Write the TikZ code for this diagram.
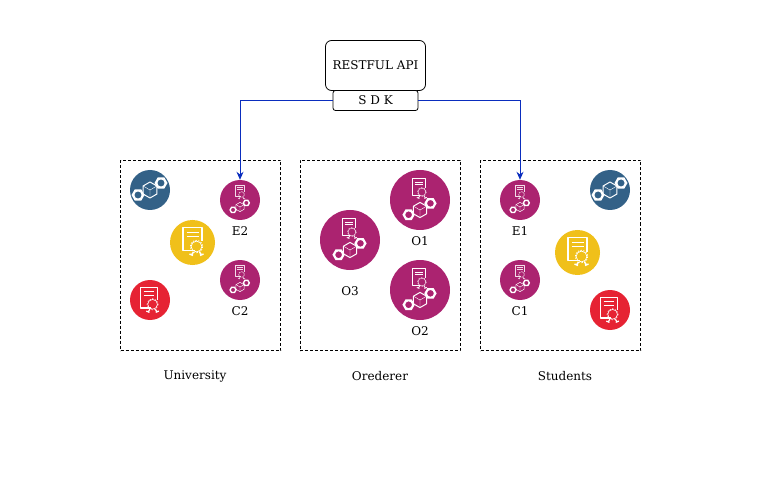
\documentclass[tikz,border=0pt]{standalone}
\usepackage{fontspec}
\setmainfont{DejaVu Serif}
\usepackage{xcolor}
\usetikzlibrary{arrows.meta, positioning}
\definecolor{netblue}{HTML}{336187}
\definecolor{netyellow}{HTML}{F0C01A}
\definecolor{netred}{HTML}{E62333}
\definecolor{netpurple}{HTML}{AB2370}
\definecolor{linkblue}{HTML}{0A2DBE}
\tikzset{
    certicon/.pic={
        \draw[white, line join=round] (2,11) -- (-9.5,11) -- (-9.5,-12) -- (9.5,-12) -- (9.5,2);
        \draw[white] (-6,-7) -- (6,-7);
        \draw[white] (-6,-3) -- (6,-3);
        \draw[white, line width=.7*\pgflinewidth] (4,7) circle (5.4);
        \draw[white, line width=.7*\pgflinewidth, dash pattern=on 1.4pt off 1.4pt] (4,7) circle (6.2);
        \draw[white] (1,12.5) -- (-1,15.5) (-3,14.5) -- (0.5,16);
        \draw[white] (7,12.5) -- (9,15.5) (11,14.5) -- (7.5,16);
    },
    chainicon/.pic={
        \fill[white, even odd rule] (-12,5) ++(0:6.5) -- ++(120:6.5) -- ++(180:6.5) -- ++(240:6.5) -- ++(300:6.5) -- ++(0:6.5) -- cycle (-12,5) circle (3.6);
        \fill[white, even odd rule] (11,-7) ++(0:6.5) -- ++(120:6.5) -- ++(180:6.5) -- ++(240:6.5) -- ++(300:6.5) -- ++(0:6.5) -- cycle (11,-7) circle (3.6);
        \draw[white, line join=round] (30:8) -- (90:8) -- (150:8) -- (210:8) -- (270:8) -- (330:8) -- cycle;
        \draw[white!70, line width=.4pt] (0,0) -- (90:8) (0,0) -- (210:8) (0,0) -- (330:8);
    }
}
\begin{document}
\begin{tikzpicture}[
    x=1pt, y=-1pt,
    font=\fontsize{12}{14}\selectfont,
    orgbox/.style={rectangle, draw, dashed, minimum width=160pt, minimum height=190pt, line width=.8pt, dash pattern=on 3pt off 2pt},
    peer/.style={circle, inner sep=0pt, minimum size=40pt, fill=netpurple},
    orderer/.style={peer, minimum size=60pt},
    badge/.style={circle, inner sep=0pt, minimum size=40pt},
    apibox/.style={rectangle, draw, line width=.8pt},
    link/.style={draw=linkblue, line width=1pt, -{Stealth[length=8pt, width=7pt]}},
    caption/.style={inner sep=0pt},
    smallicon/.style={scale=.5, line width=.5pt, opacity=.85},
    bigicon/.style={scale=.72, line width=.8pt}
]
    \useasboundingbox (0,0) rectangle (771,481);

    \node (api) [apibox, rounded corners=6pt, minimum width=100pt, minimum height=50pt] at (375.5,65.5) {RESTFUL API};
    \node (sdk) [apibox, rounded corners=2.5pt, fill=white, minimum width=85pt, minimum height=20pt] at (375.5,100.5) {S D K};

    \node (university) [orgbox] at (200.5,255.5) {};
    \node (orderers) [orgbox] at (380,255.5) {};
    \node (students) [orgbox] at (560.5,255.5) {};

    \node (e2) [peer] at (240,200) {};
    \node (c2) [peer] at (240,280) {};
    \node (e1) [peer] at (520,200) {};
    \node (c1) [peer] at (520,280) {};
    \node (o1) [orderer] at (420,200) {};
    \node (o2) [orderer] at (420,290) {};
    \node (o3) [orderer] at (350,240) {};

    \node (ublue) [badge, fill=netblue] at (150,190) {};
    \node (uyellow) [badge, fill=netyellow, minimum size=45pt] at (192.5,242.5) {};
    \node (ured) [badge, fill=netred] at (150,300) {};
    \node (sblue) [badge, fill=netblue] at (610,190) {};
    \node (syellow) [badge, fill=netyellow, minimum size=45pt] at (577.5,252.5) {};
    \node (sred) [badge, fill=netred] at (610,310) {};

    % icons on the circles
    \foreach \p in {e2,c2,e1,c1} {
        \pic[smallicon] at ([shift={(-.5,-9)}]\p.center) {certicon};
        \pic[scale=.58, line width=.5pt] at ([shift={(0,7)}]\p.center) {chainicon};
    }
    \foreach \p in {o1,o2,o3} {
        \pic[bigicon] at ([shift={(-1,-13)}]\p.center) {certicon};
        \pic[scale=.95, line width=1pt] at ([shift={(0,10)}]\p.center) {chainicon};
    }
    \pic[line width=1pt] at (ublue.center) {chainicon};
    \pic[line width=1pt] at (sblue.center) {chainicon};
    \pic[line width=1.4pt] at ([shift={(0,-3)}]uyellow.center) {certicon};
    \pic[line width=1.4pt] at ([shift={(0,-3)}]syellow.center) {certicon};
    \pic[scale=.9, line width=1.2pt] at ([shift={(-1,-2)}]ured.center) {certicon};
    \pic[scale=.9, line width=1.2pt] at ([shift={(-1,-2)}]sred.center) {certicon};

    \node (e2label) [caption] at (240,231) {E2};
    \node (c2label) [caption] at (240,311) {C2};
    \node (e1label) [caption] at (520,231) {E1};
    \node (c1label) [caption] at (520,311) {C1};
    \node (o1label) [caption] at (420,241) {O1};
    \node (o2label) [caption] at (420,331) {O2};
    \node (o3label) [caption] at (350,291) {O3};

    \node (unilabel) [caption] at (195,376) {University};
    \node (ordlabel) [caption] at (380,376) {Orederer};
    \node (stulabel) [caption] at (565,376) {Students};

    \draw [link] (sdk.west) -| (e2.north);
    \draw [link] (sdk.east) -| (e1.north);
\end{tikzpicture}
\end{document}
